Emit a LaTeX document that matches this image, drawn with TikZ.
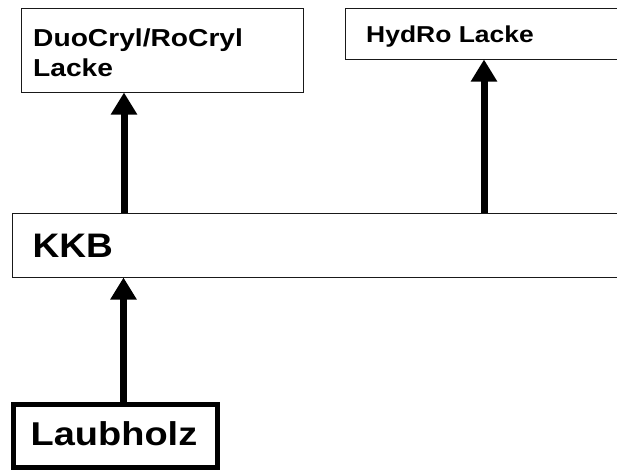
\documentclass[tikz,border=0pt]{standalone}
\usepackage{fontspec}
\setmainfont{Liberation Sans}[FakeStretch=1.15]
\newfontfamily\kkbfont{Liberation Sans}[FakeStretch=1.09]
\usetikzlibrary{arrows.meta}
\tikzset{
  thinbox/.style={draw=black!90, line width=1pt, fill=white, inner sep=0pt, rectangle},
  thickbox/.style={draw=black, line width=5pt, fill=white, inner sep=0pt, rectangle},
  lbl/.style={anchor=base west, inner sep=0pt, font=\bfseries\fontsize{#1}{30}\selectfont, align=left},
  arr/.style={line width=7pt, -{Triangle[width=25pt,length=22pt]}}
}
\begin{document}
\begin{tikzpicture}[x=1pt,y=-1pt]
\useasboundingbox (0,0) rectangle (617,469);
\clip (0,0) rectangle (617,469);
% boxes
\node[thinbox, minimum width=282pt, minimum height=84pt] (b1) at (162,50) {};
\node[thinbox, minimum width=320pt, minimum height=51pt] (b2) at (505,33.5) {};
\node[thinbox, minimum width=640pt, minimum height=64pt] (kkb) at (332,245) {};
\node[thickbox, minimum width=204pt, minimum height=63pt] (lh) at (115.5,435.5) {};
% labels
\node[lbl=24.5] (t1) at (33,76.7) {DuoCryl/RoCryl\\Lacke};
\node[lbl=23] (t2) at (366,42.3) {HydRo Lacke};
\node[lbl=34, font=\kkbfont\bfseries\fontsize{34}{34}\selectfont] (t3) at (32.5,257.7) {KKB};
\node[lbl=33] (t4) at (30.5,445.7) {Laubholz};
% arrow columns
\coordinate (a1) at (124,0);
\coordinate (a2) at (484,0);
\coordinate (a3) at (123.5,0);
\draw[arr] (a1 |- kkb.north) -- (a1 |- b1.south);
\draw[arr] (a2 |- kkb.north) -- (a2 |- b2.south);
\draw[arr] (a3 |- lh.north) -- (a3 |- kkb.south);
\end{tikzpicture}
\end{document}
